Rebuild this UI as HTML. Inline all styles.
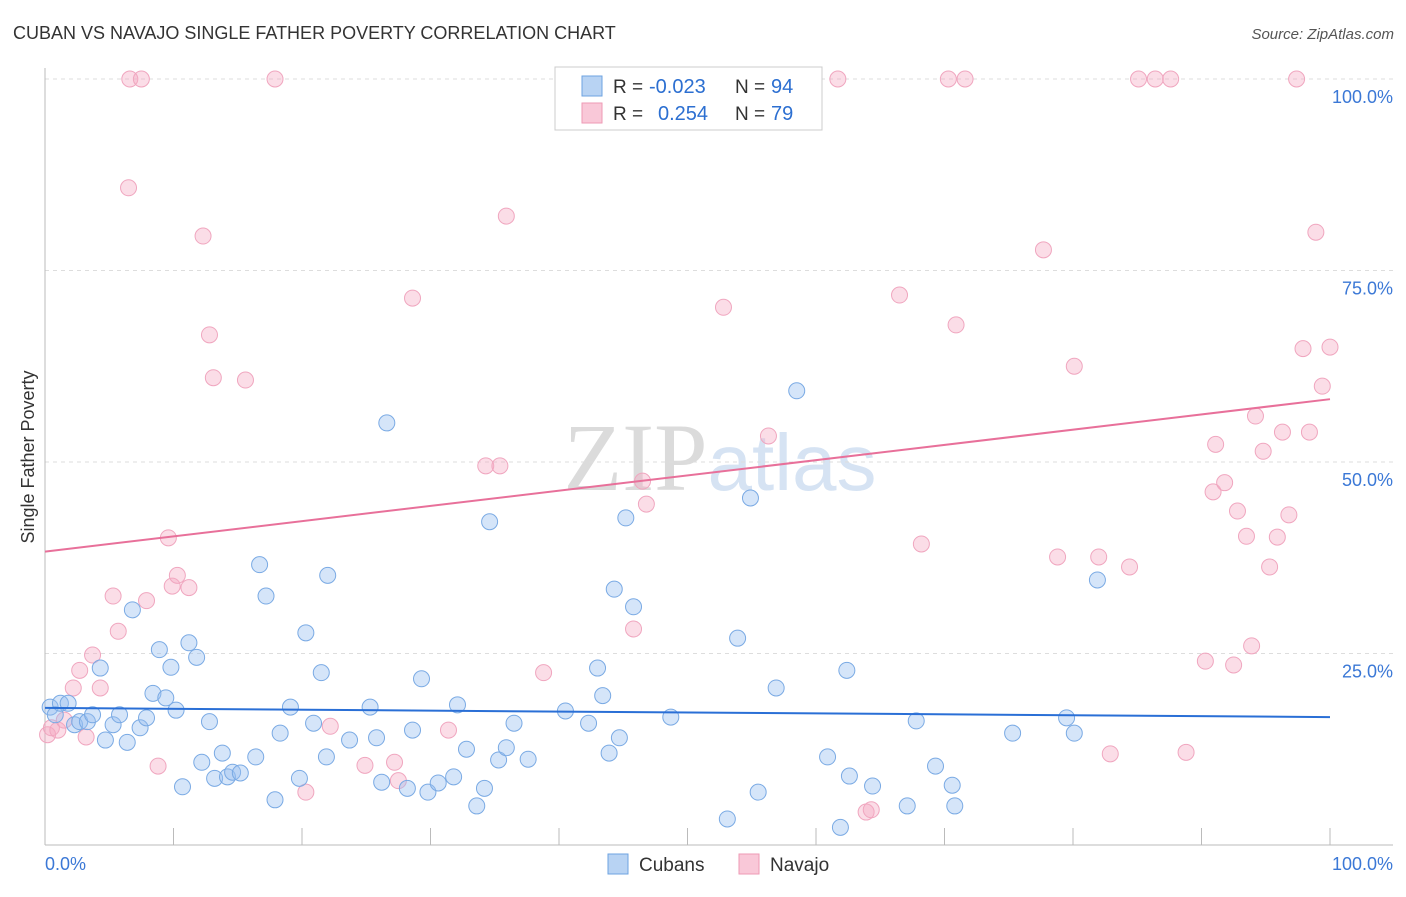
<!DOCTYPE html>
<html><head><meta charset="utf-8"><style>
body{margin:0;background:#fff;font-family:"Liberation Sans",sans-serif;}
svg text{font-family:"Liberation Sans",sans-serif;}
</style></head><body>
<svg id="chart" width="1406" height="892" xmlns="http://www.w3.org/2000/svg">
<text x="13" y="39" font-size="18" fill="#333">CUBAN VS NAVAJO SINGLE FATHER POVERTY CORRELATION CHART</text>
<text x="1394" y="39" font-size="15" fill="#555" text-anchor="end" font-style="italic">Source: ZipAtlas.com</text>
<text x="720" y="490" font-size="96" text-anchor="middle" fill="#ddd" opacity="0.7"><tspan font-family="Liberation Serif" fill="#ccc">ZIP</tspan><tspan fill="#c5d8ef" font-size="80">atlas</tspan></text>
<text transform="translate(34,457) rotate(-90)" font-size="18" fill="#333" text-anchor="middle">Single Father Poverty</text>
<g id="grid"></g><g id="ticks"></g><g id="pts"></g><g id="trends"></g>
<g>
<rect x="555" y="67" width="267" height="63" fill="#fff" stroke="#ccc"/>
<rect x="582" y="76" width="20" height="20" fill="#b8d3f3" stroke="#6ea3e0"/>
<rect x="582" y="103" width="20" height="20" fill="#f9c8d8" stroke="#ee9ab5"/>
<text x="613" y="93" font-size="19" fill="#333">R =</text>
<text x="649" y="93" font-size="20" fill="#2c6fd1">-0.023</text>
<text x="735" y="93" font-size="19" fill="#333">N =</text>
<text x="771" y="93" font-size="20" fill="#2c6fd1">94</text>
<text x="613" y="120" font-size="19" fill="#333">R =</text>
<text x="658" y="120" font-size="20" fill="#2c6fd1">0.254</text>
<text x="735" y="120" font-size="19" fill="#333">N =</text>
<text x="771" y="120" font-size="20" fill="#2c6fd1">79</text>
</g>
<g>
<rect x="608" y="854" width="20" height="20" fill="#b8d3f3" stroke="#6ea3e0"/>
<text x="639" y="871" font-size="19" fill="#333">Cubans</text>
<rect x="739" y="854" width="20" height="20" fill="#f9c8d8" stroke="#ee9ab5"/>
<text x="770" y="871" font-size="19" fill="#333">Navajo</text>
</g>
</svg>
<script>
const yTicks=[25,50,75,100];
const yTickLabels=["25.0%","50.0%","75.0%","100.0%"];
const xTicks=[0,10,20,30,40,50,60,70,80,90,100];
const cubanX=[0.4,0.8,1.2,1.8,2.3,2.7,3.3,3.7,4.3,4.7,5.3,5.8,6.4,6.8,7.4,7.9,8.4,8.9,9.4,9.8,10.2,10.7,11.2,11.8,12.2,12.8,13.2,13.8,14.2,14.6,15.2,16.4,16.7,17.2,17.9,18.3,19.1,19.8,20.3,20.9,21.5,21.9,22.0,23.7,25.3,25.8,26.2,26.6,28.2,28.6,29.3,29.8,30.6,31.8,32.1,32.8,33.6,34.2,34.6,35.3,35.9,36.5,37.6,40.5,42.3,43.0,43.4,43.9,44.3,44.7,45.2,45.8,48.7,53.1,53.9,54.9,55.5,56.9,58.5,60.9,61.9,62.6,62.4,64.4,67.1,67.8,69.3,70.6,70.8,75.3,79.5,80.1,81.9];
const cubanY=[18.0,17.0,18.5,18.5,15.7,16.1,16.1,17.0,23.1,13.7,15.7,17.0,13.4,30.7,15.3,16.6,19.8,25.5,19.2,23.2,17.6,7.6,26.4,24.5,10.8,16.1,8.7,12.0,8.9,9.5,9.4,11.5,36.6,32.5,5.9,14.6,18.0,8.7,27.7,15.9,22.5,11.5,35.2,13.7,18.0,14.0,8.2,55.1,7.4,15.0,21.7,6.9,8.1,8.9,18.3,12.5,5.1,7.4,42.2,11.1,12.7,15.9,11.2,17.5,15.9,23.1,19.5,12.0,33.4,14.0,42.7,31.1,16.7,3.4,27.0,45.3,6.9,20.5,59.3,11.5,2.3,9.0,22.8,7.7,5.1,16.2,10.3,7.8,5.1,14.6,16.6,14.6,34.6];
const navajoX=[0.2,0.5,1.0,1.5,2.2,2.7,3.2,3.7,4.3,5.3,5.7,6.5,6.6,7.5,7.9,8.8,9.6,9.9,10.3,11.2,12.3,12.8,13.1,15.6,17.9,20.3,22.2,24.9,27.2,27.5,28.6,31.4,34.3,35.4,35.9,38.8,40.4,45.8,46.5,46.8,52.8,56.3,61.7,63.9,64.3,66.5,68.2,70.3,70.9,71.6,77.7,78.8,80.1,82.0,82.9,84.4,85.1,86.4,87.6,88.8,90.3,90.9,91.1,91.8,92.8,92.5,93.5,93.9,94.2,94.8,95.3,95.9,96.3,96.8,97.4,97.9,98.4,98.9,99.4,100.0];
const navajoY=[14.4,15.3,15.0,16.3,20.5,22.8,14.1,24.8,20.5,32.5,27.9,85.8,100,100,31.9,10.3,40.1,33.8,35.2,33.6,79.5,66.6,61.0,60.7,100,6.9,15.5,10.4,10.8,8.4,71.4,15.0,49.5,49.5,82.1,22.5,100,28.2,47.5,44.5,70.2,53.4,100,4.3,4.6,71.8,39.3,100,67.9,100,77.7,37.6,62.5,37.6,11.9,36.3,100,100,100,12.1,24.0,46.1,52.3,47.3,43.6,23.5,40.3,26.0,56.0,51.4,36.3,40.2,53.9,43.1,100,64.8,53.9,80.0,59.9,65.0];
const cubanTrend=[17.9,16.7];
const navajoTrend=[38.3,58.2];

const X0=45,X1=1330,Y0=845,Y100=79;
const sx=v=>X0+(X1-X0)*v/100, sy=v=>Y0-(Y0-Y100)*v/100;
const NS="http://www.w3.org/2000/svg";
function mk(tag,attrs,parent,txt){const e=document.createElementNS(NS,tag);for(const k in attrs)e.setAttribute(k,attrs[k]);if(txt!==undefined)e.textContent=txt;document.getElementById(parent).appendChild(e);return e;}
yTicks.forEach((t,i)=>{
 const l=mk('line',{x1:X0,x2:1393,y1:sy(t),y2:sy(t),stroke:'#ddd','stroke-dasharray':'4,4'},'grid');
 
 
 const tx=mk('text',{x:1393,y:sy(t)+24,'font-size':18,fill:'#3b78d6','text-anchor':'end'},'grid',yTickLabels[i]);
 
 
});
const ax=mk('line',{x1:X0,x2:1393,y1:Y0,y2:Y0,stroke:'#bbb'},'ticks');


const ay=mk('line',{x1:X0,x2:X0,y1:68,y2:Y0,stroke:'#bbb'},'ticks');


xTicks.forEach(t=>{
 const l=mk('line',{x1:sx(t),x2:sx(t),y1:828,y2:Y0,stroke:'#bbb'},'ticks');
 
 
});
const xl0=mk('text',{x:45,y:870,'font-size':18,fill:'#3b78d6'},'ticks','0.0%');


const xl1=mk('text',{x:1393,y:870,'font-size':18,fill:'#3b78d6','text-anchor':'end'},'ticks','100.0%');


navajoX.forEach((x,i)=>{
 const c=mk('circle',{cx:sx(x),cy:sy(navajoY[i]),r:8,fill:'rgba(245,170,195,0.4)',stroke:'#f0a6bf','stroke-width':1},'pts');
 
 
});
cubanX.forEach((x,i)=>{
 const c=mk('circle',{cx:sx(x),cy:sy(cubanY[i]),r:8,fill:'rgba(150,190,240,0.4)',stroke:'#7aaae4','stroke-width':1},'pts');
 
 
});
const t1=mk('line',{x1:sx(0),x2:sx(100),y1:sy(cubanTrend[0]),y2:sy(cubanTrend[1]),stroke:'#2a6fd6','stroke-width':2},'trends');


const t2=mk('line',{x1:sx(0),x2:sx(100),y1:sy(navajoTrend[0]),y2:sy(navajoTrend[1]),stroke:'#e8709a','stroke-width':2},'trends');


</script>
</body></html>
